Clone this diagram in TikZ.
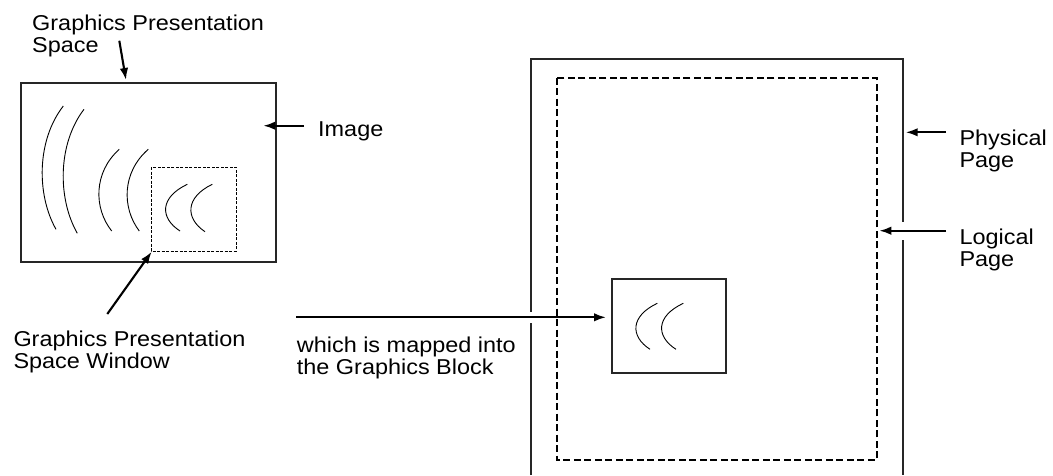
\documentclass[tikz,border=0pt]{standalone}
\usepackage{fontspec}
\setmainfont{Liberation Sans}[FakeStretch=1.09]
\usetikzlibrary{arrows.meta}

\begin{document}
\begin{tikzpicture}[x=1pt,y=-1pt,
    note/.style={anchor=north west, inner sep=0pt, align=left,
                 font=\fontsize{21.5}{22}\selectfont},
    sheet/.style={draw=black!85, line width=1.6pt},
    window/.style={draw, line width=0.9pt, dash pattern=on 3pt off 1.5pt},
    logical/.style={draw, line width=2pt, dash pattern=on 7pt off 3.5pt},
    crescent/.style={draw, line width=0.9pt},
    pointer/.style={draw, line width=2.1pt, -{Latex[length=12pt,width=8.5pt]}},
    gap/.style={draw=white, line width=#1}]
   \useasboundingbox (0,0) rectangle (1053,475);

   % presentation space with its window
   \draw[sheet] (21,83) rectangle (276,262);
   \draw[window] (151,167) rectangle (236,251);
   \draw[crescent] (63.3,106) .. controls (36.5,140.5) and (36.5,194.8) .. (56,229.3);
   \draw[crescent] (84,109.3) .. controls (57.5,144) and (57.5,198.6) .. (77.3,233.3);
   \draw[crescent] (119.3,149.3) .. controls (93.5,172.2) and (93.5,208.1) .. (111.7,231);
   \draw[crescent] (148.3,149.3) .. controls (121.8,172.2) and (121.8,208.1) .. (139.3,231);
   \draw[crescent] (187.3,184.3) .. controls (159.7,197.4) and (159.7,217.9) .. (180,231);
   \draw[crescent] (212.3,184.3) .. controls (185.1,197.4) and (185.1,218.4) .. (205,231.7);

   % physical and logical page
   \draw[sheet] (531,475) -- (531,59) -- (903,59) -- (903,475);
   \draw[logical] (557.3,77.6) rectangle (876.7,460);
   \draw[gap=11pt] (524,317.3) -- (538,317.3);
   \draw[gap=18pt] (896,230.7) -- (910,230.7);

   % graphics block
   \draw[sheet] (611.8,279) rectangle (725.8,372.7);
   \draw[crescent] (657.3,303.3) .. controls (630.1,316.2) and (630.1,336.4) .. (650,349.3);
   \draw[crescent] (683.3,303.3) .. controls (655.7,316.2) and (655.7,336.4) .. (676,349.3);

   % labels
   \node[note] (gps) at (32,15) {Graphics Presentation\\Space};
   \node[note] (img) at (318,121.7) {Image};
   \node[note] (gpsw) at (13.3,330.7) {Graphics Presentation\\Space Window};
   \node[note] (mapped) at (296.7,336.7) {which is mapped into\\the Graphics Block};
   \node[note] (phys) at (959.3,129.3) {Physical\\Page};
   \node[note] (logi) at (959.3,228.3) {Logical\\Page};

   \coordinate (gpstail) at (119.3,40.7);
   \coordinate (gpstip) at (126,80);
   \coordinate (imgtail) at (304,125.7);
   \coordinate (imgtip) at (263.3,125.7);
   \coordinate (gpswtail) at (107.3,314);
   \coordinate (gpswtip) at (151.7,251.7);
   \coordinate (maptail) at (296,317.3);
   \coordinate (maptip) at (606,317.3);
   \coordinate (physTail) at (946,132.3);
   \coordinate (physTip) at (905.7,132.3);
   \coordinate (logiTail) at (946,230.7);
   \coordinate (logiTip) at (879.3,230.7);

   \draw[pointer] (gpstail) -- (gpstip);
   \draw[pointer] (imgtail) -- (imgtip);
   \draw[pointer] (gpswtail) -- (gpswtip);
   \draw[pointer] (maptail) -- (maptip);
   \draw[pointer] (physTail) -- (physTip);
   \draw[pointer] (logiTail) -- (logiTip);
\end{tikzpicture}
\end{document}
